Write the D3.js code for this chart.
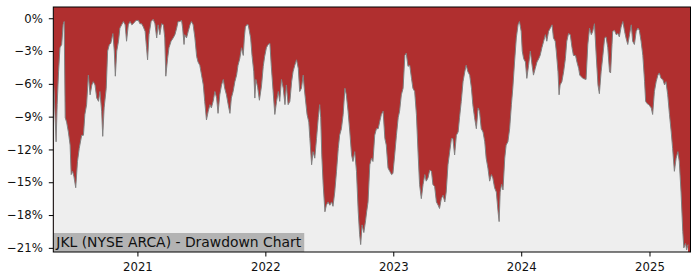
<!DOCTYPE html>
<html>
<head>
<meta charset="utf-8">
<script src="https://cdn.jsdelivr.net/npm/d3@7"></script>
<style>
  body { margin: 0; background: #fff; }
  svg { display: block; font-family: "DejaVu Sans", sans-serif; }
</style>
</head>
<body>
<div id="container"></div>
<script>
// drawdown readings (date, percent below the running high)
var dates = [
  "2020-05-06","2020-05-08","2020-05-14","2020-05-17","2020-05-21","2020-05-25","2020-05-30","2020-06-03","2020-06-06","2020-06-09",
  "2020-06-13","2020-06-18","2020-06-23","2020-06-26","2020-06-30","2020-07-04","2020-07-09","2020-07-14","2020-07-19","2020-07-26",
  "2020-07-31","2020-08-04","2020-08-09","2020-08-14","2020-08-19","2020-08-24","2020-08-28","2020-09-02","2020-09-07","2020-09-12",
  "2020-09-16","2020-09-21","2020-09-24","2020-09-28","2020-10-04","2020-10-08","2020-10-13","2020-10-17","2020-10-23","2020-10-27",
  "2020-10-30","2020-11-03","2020-11-08","2020-11-12","2020-11-17","2020-11-22","2020-11-27","2020-12-01","2020-12-06","2020-12-11",
  "2020-12-16","2020-12-20","2020-12-28","2021-01-04","2021-01-08","2021-01-13","2021-01-18","2021-01-23","2021-01-27","2021-01-30",
  "2021-02-03","2021-02-09","2021-02-15","2021-02-20","2021-02-25","2021-03-01","2021-03-06","2021-03-11","2021-03-16","2021-03-20",
  "2021-03-23","2021-03-28","2021-04-01","2021-04-07","2021-04-13","2021-04-18","2021-04-23","2021-04-27","2021-05-02","2021-05-07",
  "2021-05-10","2021-05-14","2021-05-16","2021-05-21","2021-05-26","2021-05-31","2021-06-04","2021-06-09","2021-06-14","2021-06-19",
  "2021-06-23","2021-06-28","2021-07-03","2021-07-08","2021-07-12","2021-07-17","2021-07-22","2021-07-27","2021-07-31","2021-08-05",
  "2021-08-10","2021-08-15","2021-08-19","2021-08-24","2021-08-29","2021-09-03","2021-09-07","2021-09-12","2021-09-17","2021-09-22",
  "2021-09-26","2021-10-01","2021-10-06","2021-10-11","2021-10-15","2021-10-20","2021-10-25","2021-10-30","2021-11-02","2021-11-05",
  "2021-11-09","2021-11-13","2021-11-16","2021-11-20","2021-11-24","2021-11-29","2021-12-02","2021-12-05","2021-12-10","2021-12-15",
  "2021-12-21","2021-12-26","2021-12-30","2022-01-04","2022-01-09","2022-01-14","2022-01-18","2022-01-23","2022-01-28","2022-02-02",
  "2022-02-07","2022-02-11","2022-02-16","2022-02-21","2022-02-26","2022-03-02","2022-03-07","2022-03-12","2022-03-17","2022-03-21",
  "2022-03-26","2022-03-31","2022-04-05","2022-04-09","2022-04-14","2022-04-19","2022-04-22","2022-04-25","2022-04-30","2022-05-05",
  "2022-05-08","2022-05-13","2022-05-17","2022-05-22","2022-05-27","2022-06-01","2022-06-05","2022-06-08","2022-06-11","2022-06-15",
  "2022-06-20","2022-06-24","2022-06-29","2022-07-04","2022-07-09","2022-07-13","2022-07-18","2022-07-23","2022-07-28","2022-08-01",
  "2022-08-06","2022-08-11","2022-08-16","2022-08-20","2022-08-25","2022-08-30","2022-09-04","2022-09-08","2022-09-13","2022-09-18",
  "2022-09-23","2022-09-27","2022-09-30","2022-10-04","2022-10-09","2022-10-14","2022-10-17","2022-10-21","2022-10-26","2022-10-31",
  "2022-11-04","2022-11-09","2022-11-14","2022-11-19","2022-11-23","2022-11-28","2022-12-03","2022-12-08","2022-12-12","2022-12-17",
  "2022-12-22","2022-12-27","2022-12-31","2023-01-05","2023-01-10","2023-01-15","2023-01-19","2023-01-24","2023-01-29","2023-02-03",
  "2023-02-07","2023-02-12","2023-02-17","2023-02-22","2023-02-26","2023-03-03","2023-03-08","2023-03-13","2023-03-17","2023-03-22",
  "2023-03-27","2023-04-01","2023-04-05","2023-04-10","2023-04-15","2023-04-20","2023-04-24","2023-04-29","2023-05-04","2023-05-09",
  "2023-05-13","2023-05-18","2023-05-23","2023-05-28","2023-06-01","2023-06-06","2023-06-11","2023-06-16","2023-06-20","2023-06-25",
  "2023-06-30","2023-07-05","2023-07-09","2023-07-14","2023-07-19","2023-07-24","2023-07-28","2023-08-02","2023-08-07","2023-08-12",
  "2023-08-16","2023-08-21","2023-08-26","2023-08-31","2023-09-04","2023-09-09","2023-09-14","2023-09-19","2023-09-23","2023-09-28",
  "2023-10-03","2023-10-08","2023-10-12","2023-10-17","2023-10-22","2023-10-27","2023-10-30","2023-11-02","2023-11-06","2023-11-10",
  "2023-11-15","2023-11-19","2023-11-24","2023-11-29","2023-12-04","2023-12-08","2023-12-13","2023-12-18","2023-12-23","2023-12-27",
  "2024-01-01","2024-01-04","2024-01-08","2024-01-13","2024-01-17","2024-01-22","2024-01-27","2024-02-01","2024-02-05","2024-02-10",
  "2024-02-15","2024-02-20","2024-02-24","2024-02-29","2024-03-05","2024-03-10","2024-03-14","2024-03-19","2024-03-24","2024-03-29",
  "2024-04-02","2024-04-07","2024-04-10","2024-04-15","2024-04-18","2024-04-21","2024-04-26","2024-05-01","2024-05-06","2024-05-10",
  "2024-05-15","2024-05-20","2024-05-25","2024-05-29","2024-06-04","2024-06-08","2024-06-13","2024-06-16","2024-06-25","2024-07-04",
  "2024-07-09","2024-07-14","2024-07-19","2024-07-23","2024-07-28","2024-08-02","2024-08-07","2024-08-11","2024-08-16","2024-08-21",
  "2024-08-26","2024-08-30","2024-09-04","2024-09-09","2024-09-12","2024-09-16","2024-09-18","2024-09-23","2024-09-28","2024-10-03",
  "2024-10-07","2024-10-12","2024-10-17","2024-10-22","2024-10-26","2024-10-31","2024-11-05","2024-11-10","2024-11-14","2024-11-19",
  "2024-11-24","2024-11-29","2024-12-03","2024-12-08","2024-12-13","2024-12-18","2024-12-21","2024-12-25","2024-12-30","2025-01-06",
  "2025-01-10","2025-01-15","2025-01-20","2025-01-25","2025-01-29","2025-02-03","2025-02-08","2025-02-13","2025-02-17","2025-02-22",
  "2025-02-27","2025-03-04","2025-03-08","2025-03-13","2025-03-18","2025-03-23","2025-03-27","2025-04-01","2025-04-06","2025-04-09",
  "2025-04-14","2025-04-17","2025-04-21"
];
var drawdown = [
  -5.9,-6.5,-11.3,-7.9,-4.9,-2.7,-2.4,-0.6,-0.3,-9.1,
  -9.5,-10.4,-11.6,-14.3,-14.0,-14.5,-15.5,-13.1,-11.9,-10.7,
  -10.7,-8.8,-7.9,-5.2,-7.0,-6.1,-5.8,-6.1,-7.3,-7.6,
  -6.7,-8.5,-10.8,-8.2,-6.4,-3.0,-2.4,-2.3,-1.4,-3.0,
  -5.3,-3.0,-2.1,-0.9,-0.6,-0.3,-0.6,-2.1,-0.6,-0.3,
  -0.6,-0.5,-0.2,-0.2,-0.5,-0.5,-0.8,-1.2,-2.7,-3.8,
  -1.5,-0.3,-0.1,-0.5,-1.8,-0.6,-1.5,-0.5,-0.6,-1.8,
  -5.3,-3.7,-2.7,-2.1,-1.8,-1.5,-0.9,-0.3,-0.3,-0.2,
  -0.9,-2.4,-1.5,-1.8,-1.2,-0.6,-0.3,-0.6,-1.8,-3.5,
  -4.0,-4.3,-5.2,-6.1,-7.6,-9.3,-8.5,-7.9,-8.2,-7.6,
  -6.7,-7.3,-8.7,-7.0,-6.1,-5.6,-6.4,-7.0,-7.9,-8.7,
  -7.3,-6.7,-5.8,-5.2,-4.3,-3.7,-2.7,-3.4,-1.8,-0.8,
  -0.6,-0.6,-1.1,-1.8,-3.4,-4.9,-7.3,-5.6,-6.3,-7.5,
  -6.2,-4.4,-3.5,-2.7,-2.4,-2.3,-4.4,-6.6,-8.8,-7.6,
  -6.7,-7.6,-5.6,-6.4,-7.9,-6.1,-7.9,-7.6,-5.8,-4.9,
  -4.3,-3.8,-4.6,-6.7,-6.4,-5.2,-6.4,-7.3,-8.8,-9.5,
  -11.0,-13.4,-12.2,-12.8,-11.0,-9.1,-7.9,-9.1,-12.5,-15.2,
  -17.7,-17.1,-16.8,-17.1,-16.8,-17.2,-15.9,-14.0,-11.9,-10.7,
  -10.1,-8.8,-6.4,-7.0,-8.5,-10.4,-12.5,-13.1,-12.2,-14.0,
  -17.7,-19.8,-20.7,-18.9,-19.6,-18.5,-17.7,-16.8,-13.4,-12.8,
  -13.1,-10.7,-10.1,-10.1,-9.5,-8.8,-8.5,-11.0,-11.6,-13.7,
  -14.0,-14.3,-14.2,-12.5,-10.7,-9.1,-8.5,-7.0,-6.4,-3.4,
  -3.2,-4.4,-4.3,-5.5,-6.4,-6.7,-8.8,-12.5,-15.2,-16.5,
  -15.2,-14.3,-14.9,-14.6,-13.9,-14.0,-15.2,-15.4,-16.8,-17.1,
  -17.4,-16.5,-16.2,-16.8,-15.9,-13.4,-12.2,-11.0,-11.0,-12.5,
  -10.7,-10.4,-9.1,-7.6,-5.8,-4.9,-4.3,-4.9,-5.2,-6.4,
  -7.9,-9.1,-10.1,-8.2,-8.5,-10.1,-10.4,-11.3,-12.8,-13.7,
  -14.9,-14.3,-14.6,-15.5,-15.9,-17.7,-18.6,-15.9,-15.2,-15.7,
  -12.8,-11.6,-11.3,-10.1,-7.9,-6.4,-4.0,-1.8,-0.6,-0.3,
  -1.2,-3.0,-3.7,-4.0,-5.5,-4.3,-3.0,-4.3,-5.2,-4.6,
  -4.0,-3.7,-3.4,-2.7,-2.1,-1.5,-2.1,-1.2,-0.9,-0.6,
  -1.8,-2.1,-3.0,-4.9,-7.0,-6.1,-5.8,-4.9,-3.7,-2.1,
  -1.4,-1.5,-2.7,-3.4,-3.4,-4.0,-4.6,-5.2,-5.5,-5.6,
  -2.4,-0.9,-1.5,-1.2,-0.5,-3.4,-6.1,-6.9,-4.9,-3.4,
  -1.8,-1.7,-2.7,-4.9,-5.0,-2.4,-1.2,-1.1,-1.5,-1.4,
  -1.7,-0.8,-0.3,-1.2,-1.8,-2.4,-1.5,-0.6,-2.1,-2.4,
  -1.2,-0.9,-1.1,-2.1,-3.4,-5.8,-7.6,-7.8,-7.9,-8.2,
  -8.8,-6.7,-5.8,-5.2,-5.0,-5.5,-5.6,-6.1,-5.8,-7.0,
  -8.8,-10.4,-11.9,-14.0,-12.8,-12.2,-13.1,-15.9,-19.5,-21.0,
  -20.6,-21.2,-20.7
];
var yTicks = [0, -3, -6, -9, -12, -15, -18, -21];
var xTickYears = ["2021", "2022", "2023", "2024", "2025"];
var xDomain = ["2020-05-06", "2025-04-28"];
var yDomain = [-21.38, 1.03];
var title = "JKL (NYSE ARCA) - Drawdown Chart";

var parse = d3.timeParse("%Y-%m-%d");
var series = dates.map(function(d, i) {
  return { date: parse(d), value: drawdown[i] };
});

var width = 700, height = 280;
var margin = { top: 7, right: 9.5, bottom: 28, left: 53.3 };
var innerW = width - margin.left - margin.right;
var innerH = height - margin.top - margin.bottom;

var svg = d3.select("#container").append("svg")
  .attr("width", width)
  .attr("height", height);

var g = svg.append("g")
  .attr("transform", "translate(" + margin.left + "," + margin.top + ")");

var x = d3.scaleTime()
  .domain(xDomain.map(parse))
  .range([0, innerW]);

var y = d3.scaleLinear()
  .domain(yDomain)
  .range([innerH, 0]);

svg.append("defs").append("clipPath")
  .attr("id", "plot-clip")
  .append("rect")
  .attr("width", innerW)
  .attr("height", innerH);

/* red background = the drawdown region */
g.append("rect")
  .attr("width", innerW)
  .attr("height", innerH)
  .attr("fill", "#b02f2f");

var area = d3.area()
  .x(function(d) { return x(d.date); })
  .y0(innerH)
  .y1(function(d) { return y(d.value); });

var line = d3.line()
  .x(function(d) { return x(d.date); })
  .y(function(d) { return y(d.value); });

var plot = g.append("g").attr("clip-path", "url(#plot-clip)");

plot.append("path")
  .datum(series)
  .attr("d", area)
  .attr("fill", "#eeeeee");

plot.append("path")
  .datum(series)
  .attr("d", line)
  .attr("fill", "none")
  .attr("stroke", "#808080")
  .attr("stroke-width", 1);

/* title box at the bottom left */
var label = g.append("g")
  .attr("transform", "translate(0," + innerH + ")");
var labelText = label.append("text")
  .attr("x", 3)
  .attr("y", -5)
  .attr("font-size", "13.9px")
  .attr("fill", "#111")
  .text(title);
var tw = labelText.node().getComputedTextLength();
label.insert("rect", "text")
  .attr("x", 0)
  .attr("y", -19)
  .attr("width", tw + 6)
  .attr("height", 19)
  .attr("fill", "#b3b3b3");

/* axes */
var yAxis = d3.axisLeft(y)
  .tickValues(yTicks)
  .tickSize(4.5)
  .tickPadding(6)
  .tickFormat(function(d) {
    return (d < 0 ? "\u2212" + Math.abs(d) : d) + "%";
  });

var xAxis = d3.axisBottom(x)
  .tickValues(xTickYears.map(function(s) { return parse(s + "-01-01"); }))
  .tickSize(4.5)
  .tickPadding(6.5)
  .tickFormat(d3.timeFormat("%Y"));

var ya = g.append("g").call(yAxis);
var xa = g.append("g")
  .attr("transform", "translate(0," + innerH + ")")
  .call(xAxis);

[ya, xa].forEach(function(a) {
  a.select(".domain").remove();
  a.selectAll("text")
    .attr("font-size", "11.7px")
    .attr("font-family", "DejaVu Sans, sans-serif")
    .attr("fill", "#111");
  a.selectAll(".tick line").attr("stroke", "#000").attr("stroke-width", 1);
});

/* frame */
g.append("rect")
  .attr("width", innerW)
  .attr("height", innerH)
  .attr("fill", "none")
  .attr("stroke", "#000")
  .attr("stroke-width", 1);
</script>
</body>
</html>
